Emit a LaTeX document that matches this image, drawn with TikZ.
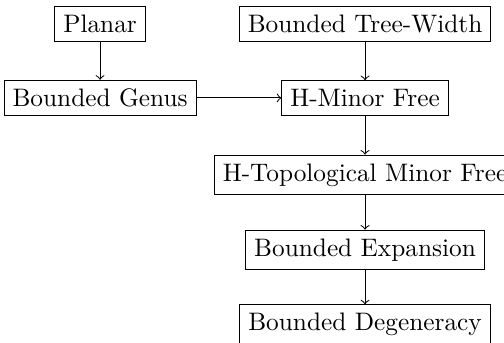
\documentclass[tikz,border=0pt]{standalone}
\usepackage{tikz}

\begin{document}
\begin{tikzpicture}
    \useasboundingbox (0,0) rectangle (7,-4.76);
    \node [draw] at (1.39,-0.33) (planar) {Planar};
    \node [draw] at (1.39,-1.36) (genus) {Bounded Genus};
    \node [draw] at (5.07,-0.33) (tw) {Bounded Tree-Width};
    \node [draw] at (5.07,-1.36) (minor) {H-Minor Free};
    \node [draw] at (5.07,-2.43) (topminor) {H-Topological Minor Free};
    \node [draw] at (5.07,-3.47) (expansion) {Bounded Expansion};
    \node [draw] at (5.07,-4.51) (degeneracy) {Bounded Degeneracy};
    \path [draw, ->] (planar) -- (genus);
    \path [draw, ->] (genus) -- (minor);
    \path [draw, ->] (tw) -- (minor);
    \path [draw, ->] (minor) -- (topminor);
    \path [draw, ->] (topminor) -- (expansion);
    \path [draw, ->] (expansion) -- (degeneracy);
\end{tikzpicture}
\end{document}
